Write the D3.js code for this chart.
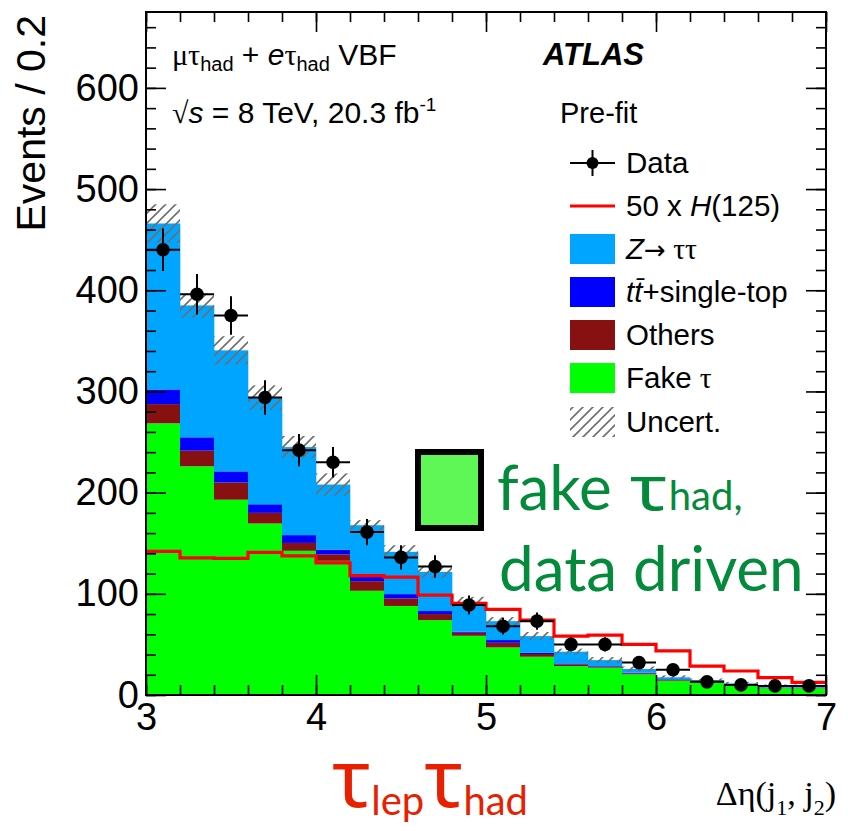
<!DOCTYPE html>
<html>
<head>
<meta charset="utf-8">
<script src="https://cdn.jsdelivr.net/npm/d3@7"></script>
<style>
  body { margin: 0; background: #fff; }
  svg { display: block; }
</style>
</head>
<body>
<svg id="chart" width="848" height="831"></svg>
<script>
// Δη(j1,j2) bins, lower edges (width 0.2)
const binLow = [3.0, 3.2, 3.4, 3.6, 3.8, 4.0, 4.2, 4.4, 4.6, 4.8,
                5.0, 5.2, 5.4, 5.6, 5.8, 6.0, 6.2, 6.4, 6.6, 6.8];
const binWidth = 0.2;

// Background components (events per bin)
const fakeTau  = [268.5, 226, 193, 169.5, 142.5, 132.6, 103, 88, 74, 58.5,
                  47, 37.8, 28.6, 27, 20.4, 14.1, 12.1, 9.2, 6.6, 6.6];
const others   = [19, 15.5, 17, 10.5, 7.8, 6.4, 9.5, 7.4, 6, 3,
                  4.6, 2.7, 1.6, 1, 1, 0.7, 0.5, 0.4, 0.3, 0.3];
const topQuark = [14.5, 13.2, 11, 8.5, 7.7, 4.7, 4.3, 4.3, 3, 1,
                  2.7, 1.3, 1, 0.6, 0.6, 0.7, 0.5, 0.4, 0.3, 0.3];
const zTauTau  = [164, 130.3, 119.6, 105.5, 87, 64.3, 51, 41.8, 38.7, 29.5,
                  18.7, 16.4, 11.6, 5.9, 3.7, 2, 1.7, 1.5, 1.7, 1.7];
// Total background uncertainty (half-width of hatched band)
const bkgUnc   = [19, 12, 14, 12, 11, 11, 5, 6.5, 6, 5,
                  4, 4, 3, 3, 2.5, 2, 1.5, 1.5, 1.5, 1.5];
// 50 x H(125) signal
const signal50 = [142, 135.5, 135, 141, 137.5, 130.6, 118, 116.5, 98.7, 90.5,
                  84.6, 74, 58.2, 59.2, 50, 43.7, 28.6, 23.7, 17.1, 12.5];
// Observed data and statistical errors
const dataVals = [440, 396, 375, 294, 242, 230, 161, 136, 127, 89,
                  68, 73, 50, 50, 32, 25, 13, 10, 9, 9];
const dataErr  = [21, 20, 19, 17, 16, 15, 13, 12, 11, 9.4,
                  8.2, 8.5, 7, 7, 5.7, 5, 3.6, 3.2, 3, 3];

const yTickVals = [0, 100, 200, 300, 400, 500, 600];
const xTickVals = [3, 4, 5, 6, 7];

const colors = {
  ztt: "#00a5ff",
  top: "#0000ff",
  others: "#871010",
  fake: "#00ff00"
};

const svg = d3.select("#chart");
const L = 146, R = 826, T = 12, B = 695;
const x = d3.scaleLinear().domain([3, 7]).range([L, R]);
const y = d3.scaleLinear().domain([0, 675]).range([B, T]);

const defs = svg.append("defs");
const pat = defs.append("pattern")
  .attr("id", "hatch").attr("patternUnits", "userSpaceOnUse")
  .attr("width", 10).attr("height", 10);
pat.append("path")
  .attr("d", "M-2,2 L2,-2 M0,10 L10,0 M8,12 L12,8")
  .attr("stroke", "#6e6e6e").attr("stroke-width", 1.6);

defs.append("clipPath").attr("id", "frameClip")
  .append("rect").attr("x", L).attr("y", T).attr("width", R - L).attr("height", B - T);

const rows = binLow.map((lo, i) => ({
  lo, fake: fakeTau[i], others: others[i], top: topQuark[i], ztt: zTauTau[i]
}));
const keys = ["fake", "others", "top", "ztt"];
const stacked = d3.stack().keys(keys)(rows);

const plot = svg.append("g").attr("clip-path", "url(#frameClip)");

plot.selectAll("g.layer").data(stacked).join("g")
  .attr("class", "layer")
  .attr("fill", d => colors[d.key])
  .selectAll("rect").data(d => d).join("rect")
  .attr("x", d => x(d.data.lo))
  .attr("width", d => x(d.data.lo + binWidth) - x(d.data.lo) + 0.3)
  .attr("y", d => y(d[1]))
  .attr("height", d => y(d[0]) - y(d[1]));

// Uncertainty band around the background total
const totals = rows.map(r => r.fake + r.others + r.top + r.ztt);
plot.append("g").selectAll("rect").data(rows).join("rect")
  .attr("x", d => x(d.lo))
  .attr("width", d => x(d.lo + binWidth) - x(d.lo))
  .attr("y", (d, i) => y(totals[i] + bkgUnc[i]))
  .attr("height", (d, i) => y(totals[i] - bkgUnc[i]) - y(totals[i] + bkgUnc[i]))
  .attr("fill", "url(#hatch)");

// Signal histogram as a step line
const sigPts = binLow.map((lo, i) => [lo, signal50[i]]);
sigPts.push([binLow[binLow.length - 1] + binWidth, signal50[signal50.length - 1]]);
plot.append("path")
  .datum(sigPts)
  .attr("fill", "none").attr("stroke", "#ff0000").attr("stroke-width", 3.2)
  .attr("d", d3.line().x(d => x(d[0])).y(d => y(d[1])).curve(d3.curveStepAfter));

// Data points with error bars
const pts = plot.append("g").selectAll("g").data(binLow).join("g");
pts.append("line")
  .attr("x1", d => x(d)).attr("x2", d => x(d + binWidth))
  .attr("y1", (d, i) => y(dataVals[i])).attr("y2", (d, i) => y(dataVals[i]))
  .attr("stroke", "#000").attr("stroke-width", 2);
pts.append("line")
  .attr("x1", d => x(d + binWidth / 2)).attr("x2", d => x(d + binWidth / 2))
  .attr("y1", (d, i) => y(dataVals[i] - dataErr[i])).attr("y2", (d, i) => y(dataVals[i] + dataErr[i]))
  .attr("stroke", "#000").attr("stroke-width", 2);
pts.append("circle")
  .attr("cx", d => x(d + binWidth / 2)).attr("cy", (d, i) => y(dataVals[i]))
  .attr("r", 6.8).attr("fill", "#000");

// Axes: ticks drawn inward on all four sides
const minorY = d3.range(0, 675, 20);
const minorX = d3.range(3, 7.001, 0.2);
function styleAxis(g) {
  g.select(".domain").remove();
  g.selectAll(".tick line").attr("stroke", "#000").attr("stroke-width", 1.6);
}
svg.append("g").attr("transform", `translate(${L},0)`)
  .call(d3.axisLeft(y).tickValues(minorY).tickSize(-10).tickFormat("")).call(styleAxis);
svg.append("g").attr("transform", `translate(${R},0)`)
  .call(d3.axisRight(y).tickValues(minorY).tickSize(-10).tickFormat("")).call(styleAxis);
svg.append("g").attr("transform", `translate(0,${B})`)
  .call(d3.axisBottom(x).tickValues(minorX).tickSize(-10).tickFormat("")).call(styleAxis);
svg.append("g").attr("transform", `translate(0,${T})`)
  .call(d3.axisTop(x).tickValues(minorX).tickSize(-10).tickFormat("")).call(styleAxis);

const yAxis = svg.append("g").attr("transform", `translate(${L},0)`)
  .call(d3.axisLeft(y).tickValues(yTickVals).tickSize(-20).tickPadding(7).tickFormat(d3.format("d")))
  .call(styleAxis);
svg.append("g").attr("transform", `translate(${R},0)`)
  .call(d3.axisRight(y).tickValues(yTickVals).tickSize(-20).tickFormat("")).call(styleAxis);
const xAxis = svg.append("g").attr("transform", `translate(0,${B})`)
  .call(d3.axisBottom(x).tickValues(xTickVals).tickSize(-20).tickPadding(8).tickFormat(d3.format("d")))
  .call(styleAxis);
svg.append("g").attr("transform", `translate(0,${T})`)
  .call(d3.axisTop(x).tickValues(xTickVals).tickSize(-20).tickFormat("")).call(styleAxis);

[yAxis, xAxis].forEach(g => g
  .attr("font-family", "'Liberation Sans', Arial, sans-serif")
  .attr("font-size", 38)
  .selectAll("text").attr("fill", "#000"));

// Frame
svg.append("rect").attr("x", L).attr("y", T).attr("width", R - L).attr("height", B - T)
  .attr("fill", "none").attr("stroke", "#000").attr("stroke-width", 2);

const sans = "'Liberation Sans', Arial, sans-serif";
const serif = "'Liberation Serif', 'Times New Roman', serif";

// Y axis title
svg.append("text")
  .attr("transform", "translate(45,15) rotate(-90)")
  .attr("text-anchor", "end")
  .attr("font-family", sans).attr("font-size", 41)
  .text("Events / 0.2");

// Channel / dataset labels
const t1 = svg.append("text").attr("x", 172).attr("y", 65)
  .attr("font-family", sans).attr("font-size", 30);
t1.append("tspan").attr("font-family", serif).text("μτ");
t1.append("tspan").attr("font-size", 20).attr("dy", 6).text("had");
t1.append("tspan").attr("dy", -6).text(" + ");
t1.append("tspan").attr("font-style", "italic").text("e");
t1.append("tspan").attr("font-family", serif).text("τ");
t1.append("tspan").attr("font-size", 20).attr("dy", 6).text("had");
t1.append("tspan").attr("dy", -6).text(" VBF");

const t2 = svg.append("text").attr("x", 172).attr("y", 123)
  .attr("font-family", sans).attr("font-size", 30);
t2.append("tspan").attr("font-family", serif).text("√");
t2.append("tspan").attr("font-style", "italic").text("s");
t2.append("tspan").text(" = 8 TeV, 20.3 fb");
t2.append("tspan").attr("font-size", 19).attr("dy", -12).text("-1");

svg.append("text").attr("x", 543).attr("y", 65)
  .attr("font-family", sans).attr("font-size", 31)
  .attr("font-weight", "bold").attr("font-style", "italic").text("ATLAS");
svg.append("text").attr("x", 560).attr("y", 123)
  .attr("font-family", sans).attr("font-size", 29).text("Pre-fit");

// Legend
const legX = 570, legW = 45, legTextX = 626;
const legY = [163, 206, 249, 292, 335, 378, 422];
const leg = svg.append("g").attr("font-family", sans).attr("font-size", 29.5);
// Data
leg.append("line").attr("x1", legX).attr("x2", legX + legW).attr("y1", legY[0]).attr("y2", legY[0])
  .attr("stroke", "#000").attr("stroke-width", 2);
leg.append("line").attr("x1", legX + legW / 2).attr("x2", legX + legW / 2)
  .attr("y1", legY[0] - 13).attr("y2", legY[0] + 13).attr("stroke", "#000").attr("stroke-width", 2);
leg.append("circle").attr("cx", legX + legW / 2).attr("cy", legY[0]).attr("r", 6).attr("fill", "#000");
// Signal
leg.append("line").attr("x1", legX).attr("x2", legX + legW).attr("y1", legY[1]).attr("y2", legY[1])
  .attr("stroke", "#ff0000").attr("stroke-width", 3.2);
// Filled boxes
const boxKeys = ["ztt", "top", "others", "fake"];
boxKeys.forEach((k, i) => {
  leg.append("rect").attr("x", legX).attr("y", legY[i + 2] - 15)
    .attr("width", legW).attr("height", 30).attr("fill", colors[k]);
});
leg.append("rect").attr("x", legX).attr("y", legY[6] - 15)
  .attr("width", legW).attr("height", 30).attr("fill", "url(#hatch)");

const lt = i => leg.append("text").attr("x", legTextX).attr("y", legY[i] + 10);
lt(0).text("Data");
const ls = lt(1);
ls.append("tspan").text("50 x ");
ls.append("tspan").attr("font-style", "italic").text("H");
ls.append("tspan").text("(125)");
const lz = lt(2);
lz.append("tspan").attr("font-style", "italic").text("Z");
lz.append("tspan").attr("font-family", "'DejaVu Sans', sans-serif").attr("font-size", 26).text("→");
lz.append("tspan").attr("font-family", serif).text(" ττ");
const ltop = lt(3);
ltop.append("tspan").attr("font-style", "italic").text("t");
ltop.append("tspan").attr("font-style", "italic").text("t\u0304");
ltop.append("tspan").text("+single-top");
lt(4).text("Others");
const lf = lt(5);
lf.append("tspan").text("Fake ");
lf.append("tspan").attr("font-family", serif).text("τ");
lt(6).text("Uncert.");

// Annotation about the fake-tau background
const green = "#038a3a";
const annFont = "Lato, 'Open Sans', sans-serif";
svg.append("rect").attr("x", 418).attr("y", 452).attr("width", 63).attr("height", 76)
  .attr("fill", "#5ef755").attr("stroke", "#000").attr("stroke-width", 6);
const fakeWord = svg.append("text").attr("x", 497).attr("y", 510)
  .attr("font-family", annFont).attr("font-size", 62).attr("fill", green)
  .text("fake");
const tauX = 497 + fakeWord.node().getComputedTextLength() + 18;
// wide, low tau glyph: smaller font stretched horizontally
const tauTxt = svg.append("text")
  .attr("transform", `translate(${tauX},510) scale(1.25,1)`)
  .attr("font-family", "'Noto Sans', sans-serif").attr("font-size", 62).attr("fill", green)
  .text("τ");
const hadX = tauX + tauTxt.node().getComputedTextLength() * 1.25 + 1;
svg.append("text").attr("x", hadX).attr("y", 510)
  .attr("font-family", annFont).attr("font-size", 40).attr("fill", green)
  .text("had,");
svg.append("text").attr("x", 499).attr("y", 591)
  .attr("font-family", annFont).attr("font-size", 62).attr("fill", green)
  .text("data driven");

// Channel label below the axis
const red = "#e62000";
const ch = svg.append("text").attr("x", 332).attr("y", 807)
  .attr("font-family", "'Noto Sans', sans-serif").attr("fill", red);
ch.append("tspan").attr("font-size", 80).text("τ");
ch.append("tspan").attr("font-family", "Lato, sans-serif").attr("font-size", 40).attr("dy", 8).text("lep");
ch.append("tspan").attr("font-size", 80).attr("dy", -8).text("τ");
ch.append("tspan").attr("font-family", "Lato, sans-serif").attr("font-size", 40).attr("dy", 8).text("had");

// X axis title
const xt = svg.append("text").attr("x", 836).attr("y", 805).attr("text-anchor", "end")
  .attr("font-family", serif).attr("font-size", 34);
xt.append("tspan").text("Δη(j");
xt.append("tspan").attr("font-size", 22).attr("dy", 10).text("1");
xt.append("tspan").attr("dy", -10).text(", j");
xt.append("tspan").attr("font-size", 22).attr("dy", 10).text("2");
xt.append("tspan").attr("dy", -10).text(")");
</script>
</body>
</html>
